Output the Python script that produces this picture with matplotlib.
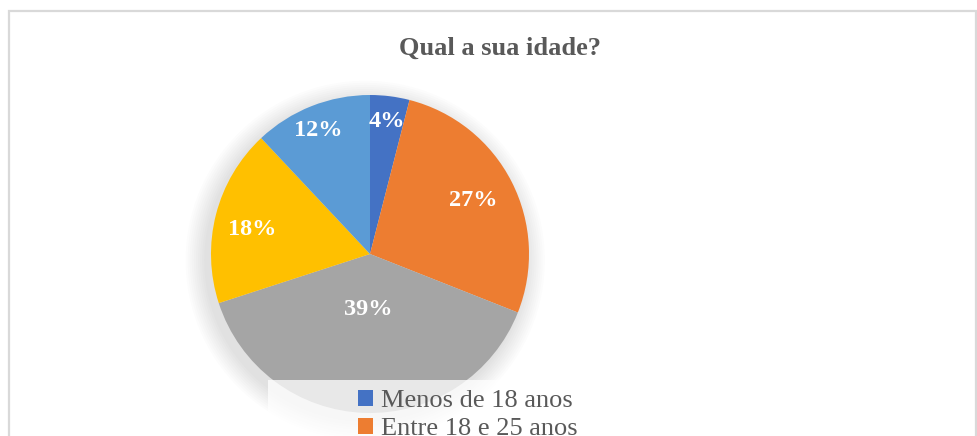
import matplotlib
matplotlib.use("Agg")
import matplotlib.pyplot as plt
from matplotlib.patches import Rectangle, Circle
import numpy as np

plt.rcParams['font.family'] = ['Liberation Serif', 'DejaVu Serif']

TITLE = "Qual a sua idade?"
shares = [4, 27, 39, 18, 12]
colors = ['#4472C4', '#ED7D31', '#A5A5A5', '#FFC000', '#5B9BD5']
legend_labels = ["Menos de 18 anos", "Entre 18 e 25 anos"]
# label placement (Excel "best fit"): radius fraction and small angle nudge
label_radius = [0.84, 0.73, 0.35, 0.755, 0.84]
label_nudge = [0, 0.7, 0, 2.4, 1.1]

W, H = 977, 436
fig = plt.figure(figsize=(W / 100, H / 100), dpi=100)

# chart border
fig.patches.append(Rectangle((8.5 / W, -0.1), (W - 10) / W, (H - 10.5) / H + 0.1,
                             transform=fig.transFigure, fill=False,
                             edgecolor='#d9d9d9', linewidth=1.6))

cx, cy, r = 370, 254, 159
ax = fig.add_axes([(cx - r) / W, (H - cy - r) / H, 2 * r / W, 2 * r / H])
ax.axis('off')

# soft shadow round the pie
for k in range(10):
    rr = 1.0 + 0.013 * (k + 1)
    ax.add_patch(Circle((-0.03, -0.04), rr, color='black', alpha=0.011,
                        linewidth=0, zorder=0, clip_on=False))

wedges, _ = ax.pie(shares, colors=colors, startangle=90, counterclock=False,
                   radius=1.0, wedgeprops=dict(linewidth=0))
for w in wedges:
    w.set_zorder(2)
ax.set_xlim(-1, 1)
ax.set_ylim(-1, 1)
ax.set_aspect('equal')

for w, s, lr, nd in zip(wedges, shares, label_radius, label_nudge):
    ang = np.deg2rad((w.theta1 + w.theta2) / 2 + nd)
    ax.text(lr * np.cos(ang), lr * np.sin(ang), f"{s}%", ha='center', va='center',
            color='white', fontsize=17.5, fontweight='bold', zorder=3)

fig.text(0.5118, (H - 48) / H, TITLE, ha='center', va='center',
         fontsize=19, fontweight='bold', color='#595959')

# legend area (semi-transparent, sits over the pie)
fig.patches.append(Rectangle((268 / W, 0), 420 / W, (H - 380) / H,
                             transform=fig.transFigure, facecolor='white',
                             alpha=0.75, linewidth=0, zorder=5))

leg = fig.legend(wedges[:2], legend_labels, loc='upper left',
                 bbox_to_anchor=(337 / W, (H - 369) / H), frameon=False,
                 fontsize=19, handlelength=0.55, handleheight=0.55,
                 handletextpad=0.3, labelspacing=0.2, borderpad=0.3)
for t in leg.get_texts():
    t.set_color('#595959')
leg.set_zorder(6)

fig.savefig("out.png", dpi=100)
